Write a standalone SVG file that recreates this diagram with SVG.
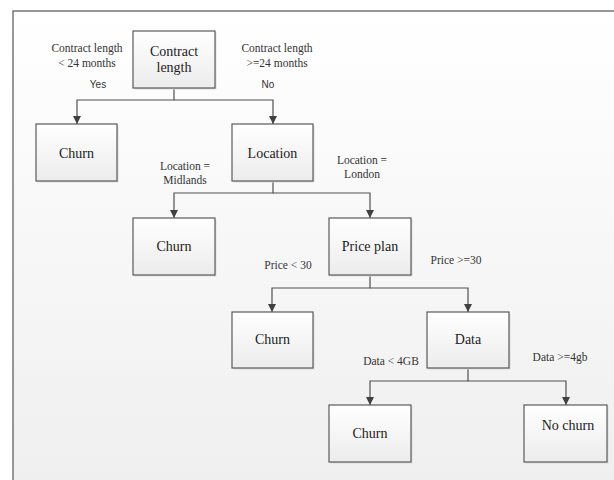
<svg xmlns="http://www.w3.org/2000/svg" width="614" height="480" viewBox="0 0 614 480">
<defs>
<linearGradient id="bg" x1="0" y1="0" x2="0" y2="1">
<stop offset="0" stop-color="#ffffff"/>
<stop offset="1" stop-color="#efefef"/>
</linearGradient>
<linearGradient id="box" x1="0" y1="0" x2="0" y2="1">
<stop offset="0" stop-color="#ffffff"/>
<stop offset="1" stop-color="#ececec"/>
</linearGradient>
<marker id="arr" viewBox="0 0 10 10" refX="10" refY="5" markerWidth="8" markerHeight="8" markerUnits="userSpaceOnUse" orient="auto">
<path d="M0,0 L10,5 L0,10 z" fill="#404040"/>
</marker>
</defs>
<style>
.node rect.sh{fill:#dcdcdc;stroke:none}
.node rect.b{fill:url(#box);stroke:#5a5a5a;stroke-width:1.2}
.nt{font-family:"Liberation Serif","Times New Roman",serif;font-size:14px;fill:#222;text-anchor:middle}
.lt{font-family:"Liberation Serif","Times New Roman",serif;font-size:11.5px;fill:#333;text-anchor:middle}
.st{font-family:"Liberation Sans",Arial,sans-serif;font-size:10px;fill:#333;text-anchor:middle}
.c path{fill:none;stroke:#505050;stroke-width:1.2}
</style>
<rect x="0" y="0" width="614" height="480" fill="#ffffff"/>
<rect x="13" y="11" width="610" height="480" fill="url(#bg)" stroke="#555" stroke-width="1.2"/>

<g class="c" id="connectors">
<path d="M174,88 V100 H77 V124" marker-end="url(#arr)"/>
<path d="M174,100 H273 V124" marker-end="url(#arr)"/>
<path d="M273,181 V193 H174 V218" marker-end="url(#arr)"/>
<path d="M273,193 H370 V218" marker-end="url(#arr)"/>
<path d="M370,275 V288 H272 V312" marker-end="url(#arr)"/>
<path d="M370,288 H468 V312" marker-end="url(#arr)"/>
<path d="M468,368 V381 H370 V405" marker-end="url(#arr)"/>
<path d="M468,381 H566 V405" marker-end="url(#arr)"/>
</g>

<g id="labels">
<text class="lt" x="87" y="52">Contract length</text>
<text class="lt" x="87" y="67">&lt; 24 months</text>
<text class="st" x="98" y="88">Yes</text>
<text class="lt" x="277" y="52">Contract length</text>
<text class="lt" x="277" y="67">&gt;=24 months</text>
<text class="st" x="268" y="88">No</text>
<text class="lt" x="185" y="170">Location =</text>
<text class="lt" x="185" y="184">Midlands</text>
<text class="lt" x="362" y="164">Location =</text>
<text class="lt" x="362" y="178">London</text>
<text class="lt" x="288" y="269">Price &lt; 30</text>
<text class="lt" x="456" y="264">Price &gt;=30</text>
<text class="lt" x="391" y="365">Data &lt; 4GB</text>
<text class="lt" x="560" y="361">Data &gt;=4gb</text>
</g>

<g class="node" id="n-contract">
<rect class="sh" x="134.500" y="32.500" width="82" height="57"/>
<rect class="b" x="133" y="31" width="82" height="57"/>
<text class="nt" x="174" y="56">Contract</text>
<text class="nt" x="174" y="72">length</text>
</g>
<g class="node" id="n-churn1">
<rect class="sh" x="37.500" y="125.500" width="81" height="57"/>
<rect class="b" x="36" y="124" width="81" height="57"/>
<text class="nt" x="76.500" y="158">Churn</text>
</g>
<g class="node" id="n-location">
<rect class="sh" x="233.500" y="125.500" width="81" height="57"/>
<rect class="b" x="232" y="124" width="81" height="57"/>
<text class="nt" x="272.500" y="158">Location</text>
</g>
<g class="node" id="n-churn2">
<rect class="sh" x="134.500" y="219.500" width="82" height="57"/>
<rect class="b" x="133" y="218" width="82" height="57"/>
<text class="nt" x="174" y="251">Churn</text>
</g>
<g class="node" id="n-price">
<rect class="sh" x="330.500" y="219.500" width="82" height="57"/>
<rect class="b" x="329" y="218" width="82" height="57"/>
<text class="nt" x="370" y="251">Price plan</text>
</g>
<g class="node" id="n-churn3">
<rect class="sh" x="233.500" y="313.500" width="81" height="56"/>
<rect class="b" x="232" y="312" width="81" height="56"/>
<text class="nt" x="272.500" y="344">Churn</text>
</g>
<g class="node" id="n-data">
<rect class="sh" x="428.500" y="313.500" width="82" height="56"/>
<rect class="b" x="427" y="312" width="82" height="56"/>
<text class="nt" x="468" y="344">Data</text>
</g>
<g class="node" id="n-churn4">
<rect class="sh" x="330.500" y="406.500" width="82" height="57"/>
<rect class="b" x="329" y="405" width="82" height="57"/>
<text class="nt" x="370" y="438">Churn</text>
</g>
<g class="node" id="n-nochurn">
<rect class="sh" x="525.500" y="406.500" width="83" height="57"/>
<rect class="b" x="524" y="405" width="83" height="57"/>
<text class="nt" x="568" y="430">No churn</text>
</g>
</svg>
